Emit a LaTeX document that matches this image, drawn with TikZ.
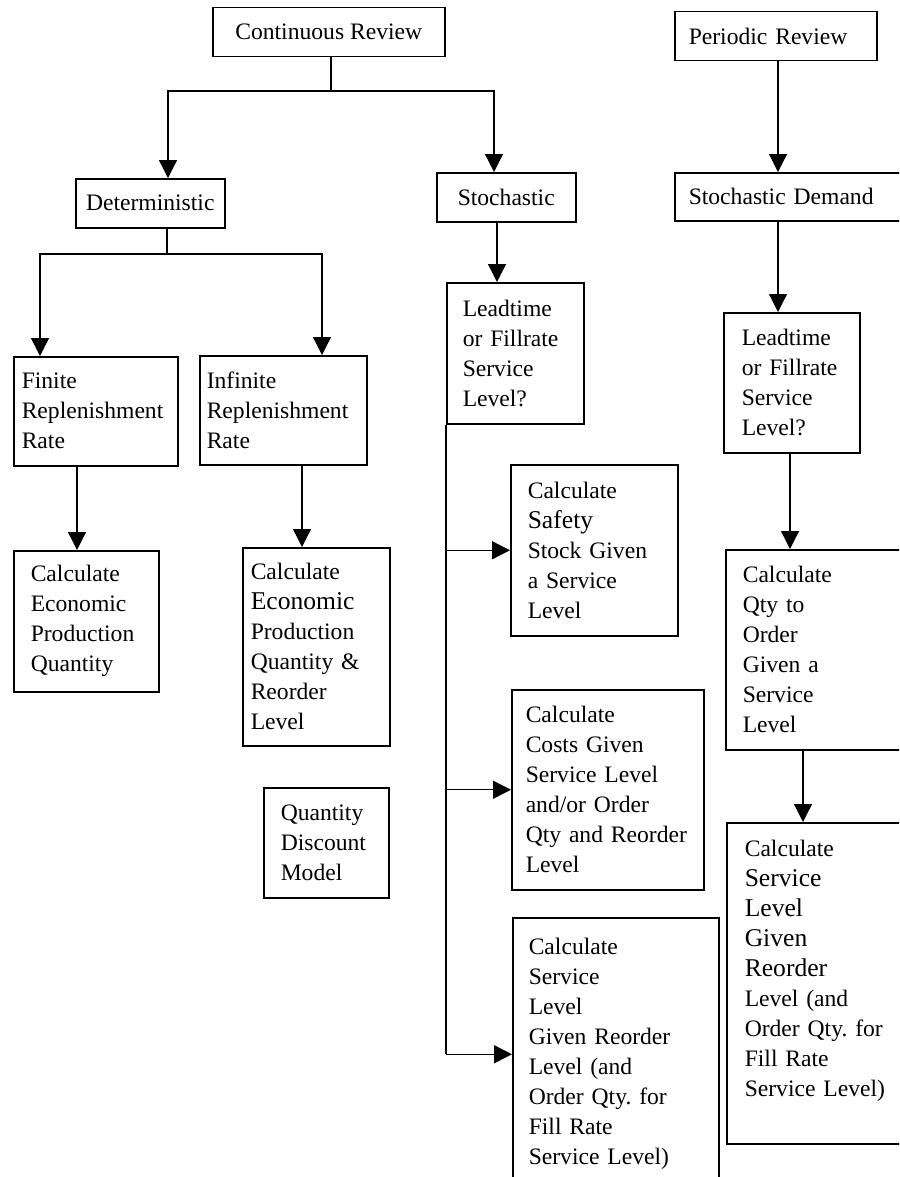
\documentclass[tikz,border=0pt]{standalone}
\usepackage{fontspec}
\setmainfont{Liberation Serif}
\usetikzlibrary{arrows.meta}
\newcommand{\bigword}[1]{{\fontsize{12.8}{15}\selectfont #1}}
\frenchspacing

\begin{document}
\begin{tikzpicture}[
  x=0.5pt, y=-0.5pt,
  font=\fontsize{11.8}{15}\selectfont, >={Triangle[length=9pt,width=9pt]},
  box/.style={draw, line width=0.75pt, anchor=north west, inner ysep=2pt},
  lbox/.style={box, align=left},
  flow/.style={->, line width=0.65pt},
  bus/.style={line width=0.65pt}
]
\useasboundingbox (0,0) rectangle (899,1177);
\clip (0,0) rectangle (899,1177);

% ---- continuous review
\node[box, minimum width=116pt, minimum height=24.5pt] (cr) at (212,7) {Continuous Review};
\node[box, minimum width=74.5pt, minimum height=24.5pt] (det) at (75,178) {Deterministic};
\node[box, minimum width=69.5pt, minimum height=24.5pt] (st) at (436,172) {Stochastic};

\coordinate (crsplit) at (331,91);
\coordinate (detx) at (168,0);
\coordinate (stx) at (494,0);
\draw[bus] (cr.south -| crsplit) -- (crsplit);
\draw[flow] (crsplit) -| (det.north -| detx);
\draw[flow] (crsplit) -| (st.north -| stx);

% ---- deterministic branch
\node[lbox, minimum width=82pt, minimum height=54.5pt, inner xsep=4pt, text width=74pt] (fin) at (13,356)
  {Finite\\Replenishment\\Rate};
\node[lbox, minimum width=83.5pt, minimum height=54.5pt, inner xsep=3.5pt, text width=76.5pt] (inf) at (199,355)
  {Infinite\\Replenishment\\Rate};
\node[lbox, minimum width=72.5pt, minimum height=70.5pt, inner xsep=8.5pt, text width=55.5pt] (epq) at (13,550)
  {Calculate\\Economic\\Production\\Quantity};
\node[lbox, minimum width=73.5pt, minimum height=99pt, inner xsep=4pt, text width=65.5pt] (epqr) at (242,547)
  {Calculate\\\bigword{Economic}\\Production\\Quantity \&\\Reorder\\Level};
\node[lbox, minimum width=62.5pt, minimum height=55pt, inner xsep=8.5pt, text width=45.5pt] (qdm) at (263,787)
  {Quantity\\Discount\\Model};

\coordinate (detsplit) at (167,254);
\coordinate (finx) at (40,0);
\coordinate (infx) at (322,0);
\coordinate (epqx) at (77,0);
\coordinate (epqrx) at (302,0);
\draw[bus] (det.south -| detsplit) -- (detsplit);
\draw[flow] (detsplit) -| (fin.north -| finx);
\draw[flow] (detsplit) -| (inf.north -| infx);
\draw[flow] (fin.south -| epqx) -- (epq.north -| epqx);
\draw[flow] (inf.south -| epqrx) -- (epqr.north -| epqrx);

% ---- stochastic branch
\node[lbox, minimum width=68.5pt, minimum height=70.5pt, inner xsep=8pt, text width=52.5pt] (leadl) at (446,282)
  {Leadtime\\or Fillrate\\Service\\Level?};
\node[lbox, minimum width=83.5pt, minimum height=85.5pt, inner xsep=8.5pt, text width=66.5pt] (safety) at (510,464)
  {Calculate\\\bigword{Safety}\\Stock Given\\a Service\\Level};
\node[lbox, minimum width=96pt, minimum height=100pt, inner xsep=7pt, text width=82pt] (costs) at (511,689)
  {Calculate\\Costs Given\\Service Level\\and/or Order\\Qty and Reorder\\Level};
\node[lbox, minimum width=103pt, minimum height=136.5pt, inner xsep=8pt, text width=87pt] (sll) at (512,917)
  {Calculate\\Service\\Level\\Given Reorder\\Level (and\\Order Qty. for\\Fill Rate\\Service Level)};

\coordinate (leadlx) at (497,0);
\draw[flow] (st.south -| leadlx) -- (leadl.north -| leadlx);
\draw[bus] (leadl.south west) -- (leadl.south west |- sll.west);
\draw[flow] (leadl.south west |- safety.west) -- (safety.west);
\draw[flow] (leadl.south west |- costs.west) -- (costs.west);
\draw[flow] (leadl.south west |- sll.west) -- (sll.west);

% ---- periodic review
\node[lbox, minimum width=101pt, minimum height=24.5pt, inner xsep=7pt, text width=87pt] (pr) at (674,11) {Periodic Review};
\node[lbox, minimum width=120pt, minimum height=24pt, inner xsep=7pt, text width=106pt] (sd) at (674,172) {Stochastic Demand};
\node[lbox, minimum width=68pt, minimum height=70pt, inner xsep=9pt, text width=50pt] (leadr) at (723,312)
  {Leadtime\\or Fillrate\\Service\\Level?};
\node[lbox, minimum width=100pt, minimum height=100pt, inner xsep=8.5pt, text width=83pt] (qty) at (725,549)
  {Calculate\\Qty to\\Order\\Given a\\Service\\Level};
\node[lbox, minimum width=100pt, minimum height=160.5pt, inner xsep=9pt, text width=82pt] (slr) at (726,822)
  {Calculate\\\bigword{Service}\\\bigword{Level}\\\bigword{Given}\\\bigword{Reorder}\\Level (and\\Order Qty. for\\Fill Rate\\Service Level)\\~};

\coordinate (prx) at (778,0);
\coordinate (leadrx) at (790,0);
\coordinate (qtyx) at (803,0);
\draw[flow] (pr.south -| prx) -- (sd.north -| prx);
\draw[flow] (sd.south -| prx) -- (leadr.north -| prx);
\draw[flow] (leadr.south -| leadrx) -- (qty.north -| leadrx);
\draw[flow] (qty.south -| qtyx) -- (slr.north -| qtyx);
\end{tikzpicture}
\end{document}
